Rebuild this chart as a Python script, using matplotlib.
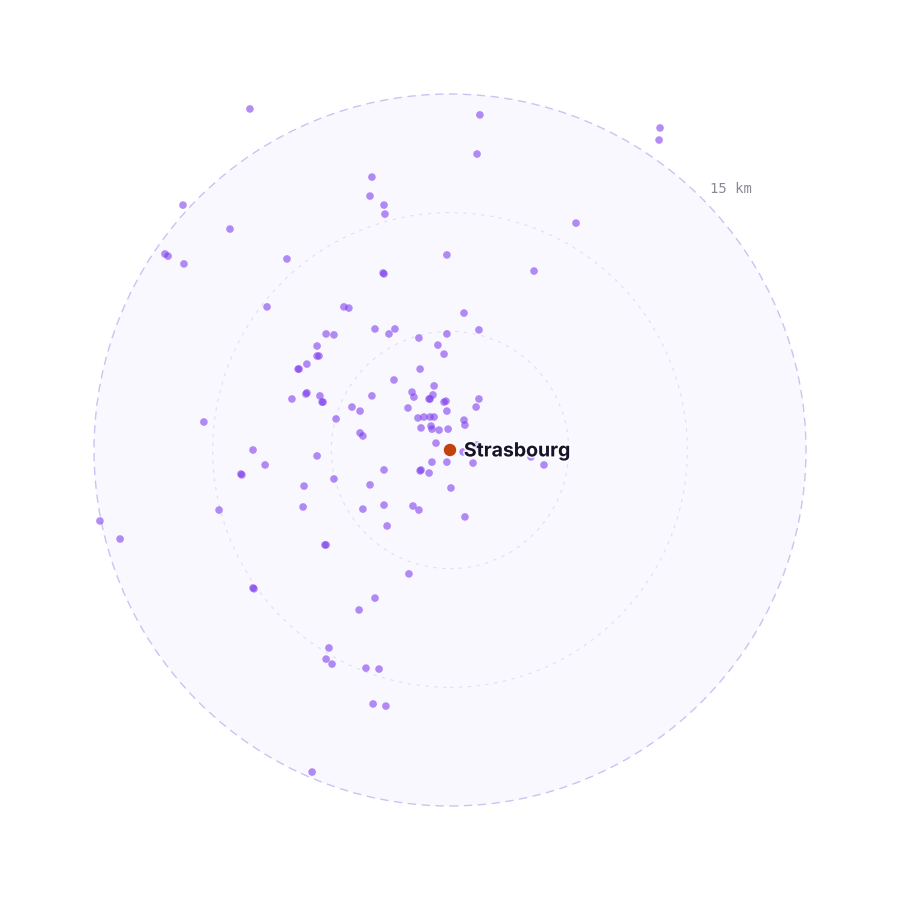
import matplotlib
matplotlib.use("Agg")
import matplotlib.pyplot as plt
import matplotlib.patheffects as pe
from matplotlib.patches import Circle
import numpy as np

# --- DATA: stop positions as offsets from the city centre (km east, km north) ---
east_km = [
    -8.43, 1.26, 8.85, 8.81, 1.14, -3.29, -3.37, -2.78, -2.74, -11.25,
    -9.27, 5.31, -0.13, -12.01, -11.88, -11.21, -6.87, -2.82, -2.78, 3.54,
    -7.71, -4.47, -4.26, 0.59, 1.22, -5.22, -4.89, -3.16, -2.57, -2.32,
    -1.31, -0.13, -0.51, -0.25, -5.60, -5.60, -5.52, -6.03, -6.40, -6.36,
    -1.26, -2.36, -0.67, -6.07, -6.03, -6.66, -5.48, -5.39, -5.35, -3.29,
    -1.60, -1.52, -0.88, -0.84, -0.72, -0.25, -0.17, 1.22, 1.10, -1.77,
    -0.13, -4.13, -3.79, -4.80, -1.35, -1.10, -0.84, -0.67, 0.59, 0.63,
    -1.22, -0.80, -0.76, -0.46, -0.08, -3.79, -3.67, -0.59, 0.55, 1.14,
    1.14, -0.76, -0.13, 0.97, 3.41, 3.96, -1.26, -1.22, -0.88, 0.04,
    -1.56, -1.31, 0.63, -5.60, -2.78, -4.89, -6.15, -3.37, -6.19, -3.67,
    -2.78, -2.65, -5.27, -5.22, -1.73, -10.37, -8.30, -7.79, -8.81, -8.77,
    -9.73, -14.75, -13.90, -8.30, -8.26, -3.16, -3.83, -5.10, -5.22, -4.97,
    -3.54, -2.99, -3.24, -2.70, -5.81,
]
north_km = [
    14.37, 14.12, 13.57, 13.06, 12.47, 11.50, 10.70, 10.32, 9.94, 10.32,
    9.31, 9.56, 8.22, 8.26, 8.17, 7.84, 8.05, 7.46, 7.42, 7.54,
    6.03, 6.03, 5.98, 5.77, 5.06, 4.89, 4.85, 5.10, 4.89, 5.10,
    4.72, 4.89, 4.42, 4.04, 4.38, 3.96, 3.96, 3.62, 3.41, 3.41,
    3.41, 2.95, 2.70, 2.36, 2.41, 2.15, 2.28, 2.02, 2.02, 2.28,
    2.44, 2.23, 2.15, 2.15, 2.32, 2.02, 2.06, 2.15, 1.81, 1.77,
    1.64, 1.81, 1.64, 1.31, 1.35, 1.39, 1.39, 1.39, 1.26, 1.05,
    0.93, 1.01, 0.88, 0.84, 0.88, 0.72, 0.59, 0.29, -0.08, 0.21,
    0.17, -0.51, -0.51, -0.55, -0.29, -0.63, -0.88, -0.84, -0.97, -1.60,
    -2.36, -2.53, -2.82, -0.25, -0.84, -1.22, -1.52, -1.47, -2.40, -2.49,
    -2.32, -3.20, -4.00, -4.00, -5.22, 1.18, 0.00, -0.63, -1.01, -1.05,
    -2.53, -2.99, -3.75, -5.81, -5.85, -6.24, -6.74, -8.34, -8.81, -9.02,
    -9.19, -9.23, -10.70, -10.79, -13.57,
]
ring_km = [5, 10, 15]
city_name = "Strasbourg"
ring_label = "15 km"

# --- FIGURE ---
fig = plt.figure(figsize=(9, 9), dpi=100)
ax = fig.add_axes([0, 0, 1, 1])
half = 450 / 356 * 15
ax.set_xlim(-half, half)
ax.set_ylim(-half, half)
ax.set_aspect("equal")
ax.axis("off")

# rings
outer = max(ring_km)
ax.add_patch(Circle((0, 0), outer, facecolor="#f9f8fe", edgecolor="none", zorder=0))
for r in ring_km:
    if r == outer:
        ax.add_patch(Circle((0, 0), r, fill=False, edgecolor="#cdc2f3",
                            linewidth=1.0, linestyle=(0, (6, 4)), zorder=1))
    else:
        ax.add_patch(Circle((0, 0), r, fill=False, edgecolor="#e2ddf5",
                            linewidth=0.8, linestyle=(0, (3, 5)), zorder=1))

ang = np.deg2rad(45)
ax.text(outer * 1.033 * np.cos(ang), outer * 1.035 * np.sin(ang), ring_label,
        family="DejaVu Sans Mono", fontsize=10, color="#8a8796",
        ha="left", va="center", zorder=2)

# stops
ax.scatter(east_km, north_km, s=30, color="#7c3aed", alpha=0.58,
           edgecolors="none", zorder=3)

# city centre
ax.scatter([0], [0], s=80, color="#c2410c", edgecolors="none", zorder=4)
ax.annotate(city_name, (0, 0), xytext=(10, -1), textcoords="offset points",
            family=["Inter", "DejaVu Sans"], fontweight="bold", fontsize=14,
            color="#17132b", ha="left", va="center", zorder=5,
            path_effects=[pe.withStroke(linewidth=2.5, foreground="white", alpha=0.8)])

fig.savefig("out.png", dpi=100, facecolor="white")
